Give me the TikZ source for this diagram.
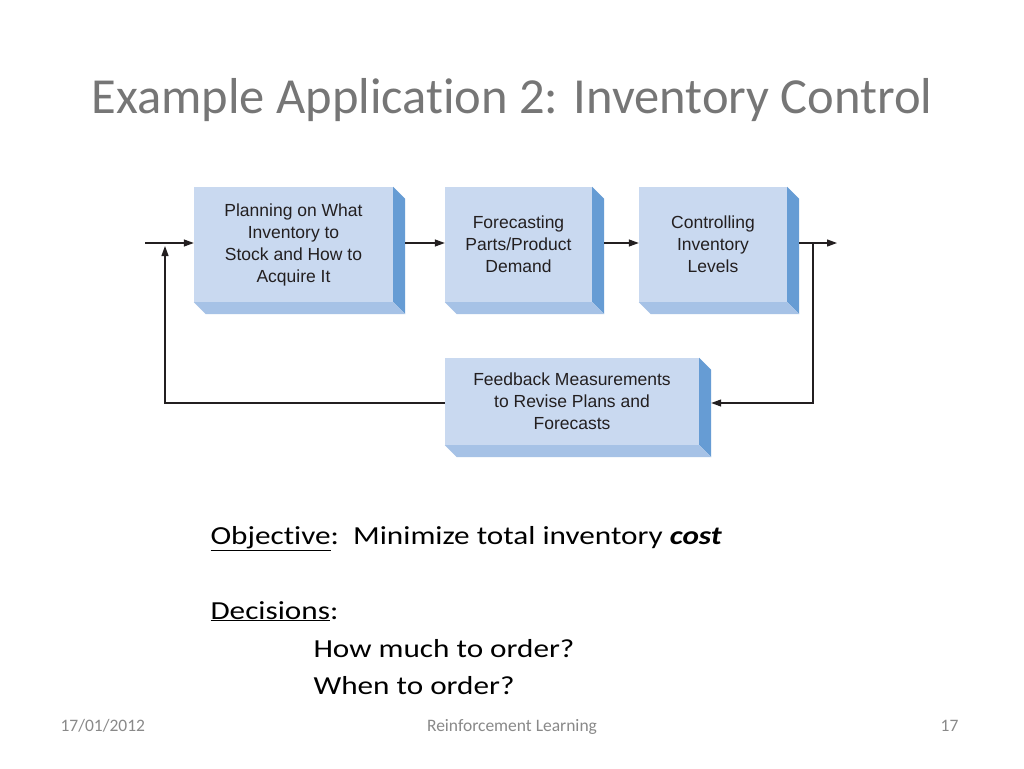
\documentclass[tikz,border=0pt]{standalone}
\usepackage{fontspec}
\setmainfont[Ligatures=NoCommon]{Carlito}
\newfontfamily\bodyfont[Ligatures=NoCommon,FakeStretch=1.2]{Carlito}
\newfontfamily\boxfont{Liberation Sans}
\usetikzlibrary{arrows.meta}

\definecolor{facecol}{RGB}{201,217,240}
\definecolor{sidecol}{RGB}{102,156,212}
\definecolor{bevelcol}{RGB}{166,194,230}
\definecolor{titlecol}{RGB}{118,118,118}
\definecolor{footcol}{RGB}{137,137,137}
\definecolor{linecol}{RGB}{35,31,32}

\tikzset{
  blockbox/.style={fill=facecol, inner sep=0pt, align=center, text=linecol,
    font=\boxfont\fontsize{17.5}{22}\selectfont},
  flow/.style={draw=linecol, line width=1.2pt, -{Triangle[length=10pt,width=7pt]}},
  bodytext/.style={anchor=base west, font=\bodyfont\fontsize{26}{32}\selectfont},
  foottext/.style={text=footcol, font=\fontsize{17.5}{20}\selectfont},
}

\begin{document}
\begin{tikzpicture}[x=1pt,y=-1pt]
\useasboundingbox[fill=white] (0,0) rectangle (1024,768);

\node[anchor=base, text=titlecol, font=\fontsize{50.5}{60}\selectfont] (title) at (512,113) {Example Application 2: Inventory Control};

%%%%%%%%%%%%%%%%%%%%%%%%%%%%%%%%%%%%%%%%%%%%
\node[blockbox, minimum width=199pt, minimum height=115pt] (plan) at (293.5,244.5) {Planning on What\\Inventory to\\Stock and How to\\Acquire It};
\node[blockbox, minimum width=147pt, minimum height=115pt] (fcast) at (518.5,244.5) {Forecasting\\Parts/Product\\Demand};
\node[blockbox, minimum width=148pt, minimum height=115pt] (ctrl) at (713,244.5) {Controlling\\Inventory\\Levels};
\node[blockbox, minimum width=254pt, minimum height=87pt] (feed) at (572,401.5) {Feedback Measurements\\to Revise Plans and\\Forecasts};

\fill[sidecol] (plan.north east) -- ++(12,12) -- ([xshift=12pt,yshift=-12pt]plan.south east) -- (plan.south east) -- cycle;
\fill[bevelcol] (plan.south west) -- (plan.south east) -- ++(12,12) -- ([xshift=12pt,yshift=-12pt]plan.south west) -- cycle;
\fill[sidecol] (fcast.north east) -- ++(12,12) -- ([xshift=12pt,yshift=-12pt]fcast.south east) -- (fcast.south east) -- cycle;
\fill[bevelcol] (fcast.south west) -- (fcast.south east) -- ++(12,12) -- ([xshift=12pt,yshift=-12pt]fcast.south west) -- cycle;
\fill[sidecol] (ctrl.north east) -- ++(12,12) -- ([xshift=12pt,yshift=-12pt]ctrl.south east) -- (ctrl.south east) -- cycle;
\fill[bevelcol] (ctrl.south west) -- (ctrl.south east) -- ++(12,12) -- ([xshift=12pt,yshift=-12pt]ctrl.south west) -- cycle;
\fill[sidecol] (feed.north east) -- ++(12,12) -- ([xshift=12pt,yshift=-12pt]feed.south east) -- (feed.south east) -- cycle;
\fill[bevelcol] (feed.south west) -- (feed.south east) -- ++(12,12) -- ([xshift=12pt,yshift=-12pt]feed.south west) -- cycle;

%%%%%%%%%%%%%%%%%%%%%%%%%%%%%%%%%%%%%%%%%%%%
\coordinate (start) at (145,243);
\coordinate (finish) at (837,243);
\coordinate (tap) at (813,243);
\coordinate (join) at (165,246);

\draw[flow] (start) to (start -| plan.west);
\draw[flow] ([xshift=12pt]plan.east |- start) to (start -| fcast.west);
\draw[flow] ([xshift=12pt]fcast.east |- start) to (start -| ctrl.west);
\draw[flow] ([xshift=12pt]ctrl.east |- start) to (finish);
\draw[flow] (tap) |- ([xshift=12pt,yshift=-1.5pt]feed.east);
\draw[flow] ([yshift=-1.5pt]feed.west) -| (join);

%%%%%%%%%%%%%%%%%%%%%%%%%%%%%%%%%%%%%%%%%%%%
\node[bodytext] (goal) at (207,544) {\underline{Objective}:\ \ Minimize total inventory \textbf{\textit{cost}}};
\node[bodytext] (dec) at (207,619) {\underline{Decisions}:};
\node[bodytext] (howmuch) at (310,657) {How much to order?};
\node[bodytext] (when) at (310,694) {When to order?};

\node[foottext, anchor=base west] (date) at (57,731) {17/01/2012};
\node[foottext, anchor=base] (talk) at (512,731) {Reinforcement Learning};
\node[foottext, anchor=base east] (page) at (962,731) {17};

\end{tikzpicture}
\end{document}
